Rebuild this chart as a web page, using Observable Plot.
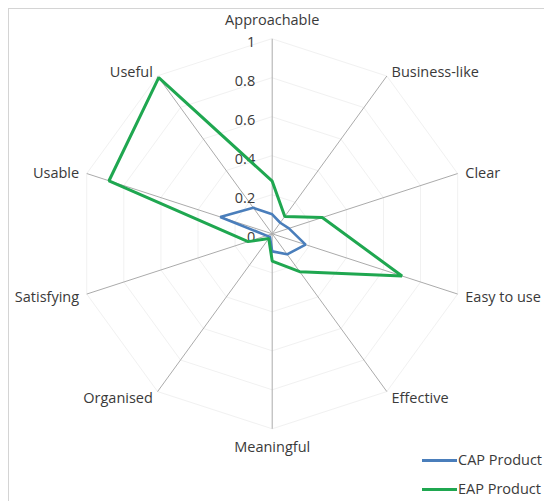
<!DOCTYPE html>
<html><head><meta charset="utf-8">
<script src="https://cdn.jsdelivr.net/npm/d3@7"></script>
<script src="https://cdn.jsdelivr.net/npm/@observablehq/plot@0.6"></script>
<style>
body{margin:0;background:#fff;font-family:"Open Sans",sans-serif;}
#wrap{position:relative;width:544px;height:501px;overflow:hidden;}
.legend{position:absolute;left:422px;font-size:14.5px;color:#3a3a3a;display:flex;align-items:center;white-space:nowrap;line-height:16px}
.legend .sw{display:inline-block;width:35px;height:3px;margin-right:1px}
</style></head><body><div id="wrap"></div>
<script>
const categories = ["Approachable","Business-like","Clear","Easy to use","Effective","Meaningful","Organised","Satisfying","Usable","Useful"];
const capValues = [0.10,0.07,0.09,0.18,0.13,0.09,0.02,0.03,0.28,0.165];
const eapValues = [0.27,0.11,0.27,0.70,0.24,0.14,0.03,0.13,0.88,0.99];
const seriesNames = ["CAP Product","EAP Product"];
const seriesColors = ["#4a7ebb","#1fa750"];
const tickValues = [0,0.2,0.4,0.6,0.8,1];
const tickLabels = ["0","0.2","0.4","0.6","0.8","1"];

const W = 544, H = 501, R = 195, cx = 271.7, cy = 233.3;
const n = categories.length;
const ang = i => i * 2 * Math.PI / n;
const px = (r, i) => r * Math.sin(ang(i));
const py = (r, i) => r * Math.cos(ang(i));

const grid = [];
tickValues.filter(v => v > 0).forEach(v => categories.forEach((c, i) => grid.push({level: v, x: px(v, i), y: py(v, i)})));

const rows = [];
[capValues, eapValues].forEach((vals, s) => vals.forEach((v, i) => rows.push({series: seriesNames[s], cat: categories[i], x: px(v, i), y: py(v, i)})));

const spokes = categories.map((c, i) => ({x2: px(1, i), y2: py(1, i)}));

function labelPos(i) {
  const t = ang(i), s = Math.sin(t), c = Math.cos(t);
  let dx, dy, anchor;
  if (Math.abs(s) < 0.1) { dx = 0; dy = c > 0 ? -18 : 19; anchor = "middle"; }
  else { dx = 8 * s; dy = -7 * c + 1.5; anchor = s > 0 ? "start" : "end"; }
  return {text: categories[i], x: s + dx / R, y: c - dy / R, anchor};
}
const labels = categories.map((c, i) => labelPos(i));

const textStyle = {fontSize: 14.5, fill: "#3a3a3a", fontFamily: "Open Sans"};

const plot = Plot.plot({
  width: W, height: H,
  marginLeft: 0, marginRight: 0, marginTop: 0, marginBottom: 0,
  x: {domain: [-cx / R, (W - cx) / R], range: [0, W], axis: null},
  y: {domain: [-(H - cy) / R, cy / R], range: [H, 0], axis: null},
  color: {domain: seriesNames, range: seriesColors},
  marks: [
    Plot.frame({stroke: "#d4d4d4", insetLeft: 8, insetTop: 8, insetRight: -6, insetBottom: -6}),
    Plot.line(grid, {x: "x", y: "y", z: "level", curve: "linear-closed", stroke: "#f1f1f1", strokeWidth: 1}),
    Plot.link(spokes, {x1: () => 0, y1: () => 0, x2: "x2", y2: "y2", stroke: "#ababab", strokeWidth: 1}),
    Plot.text(tickValues, {x: () => 0, y: d => d, text: (d, i) => tickLabels[i], textAnchor: "end", dx: -17, dy: 4, ...textStyle}),
    Plot.line(rows.filter(d => d.series === seriesNames[0]), {x: "x", y: "y", stroke: "series", curve: "linear-closed", strokeWidth: 2.6, strokeLinejoin: "miter"}),
    Plot.line(rows.filter(d => d.series === seriesNames[1]), {x: "x", y: "y", stroke: "series", curve: "linear-closed", strokeWidth: 3, strokeLinejoin: "miter"}),
    ...["middle", "start", "end"].map(a => Plot.text(labels.filter(d => d.anchor === a), {x: "x", y: "y", text: "text", textAnchor: a, ...textStyle}))
  ]
});
const wrap = document.getElementById("wrap");
wrap.appendChild(plot);
seriesNames.forEach((name, s) => {
  const el = document.createElement("div");
  el.className = "legend";
  el.style.top = (452 + s * 29) + "px";
  el.innerHTML = `<span class="sw" style="background:${seriesColors[s]}"></span>${name}`;
  wrap.appendChild(el);
});
</script></body></html>
